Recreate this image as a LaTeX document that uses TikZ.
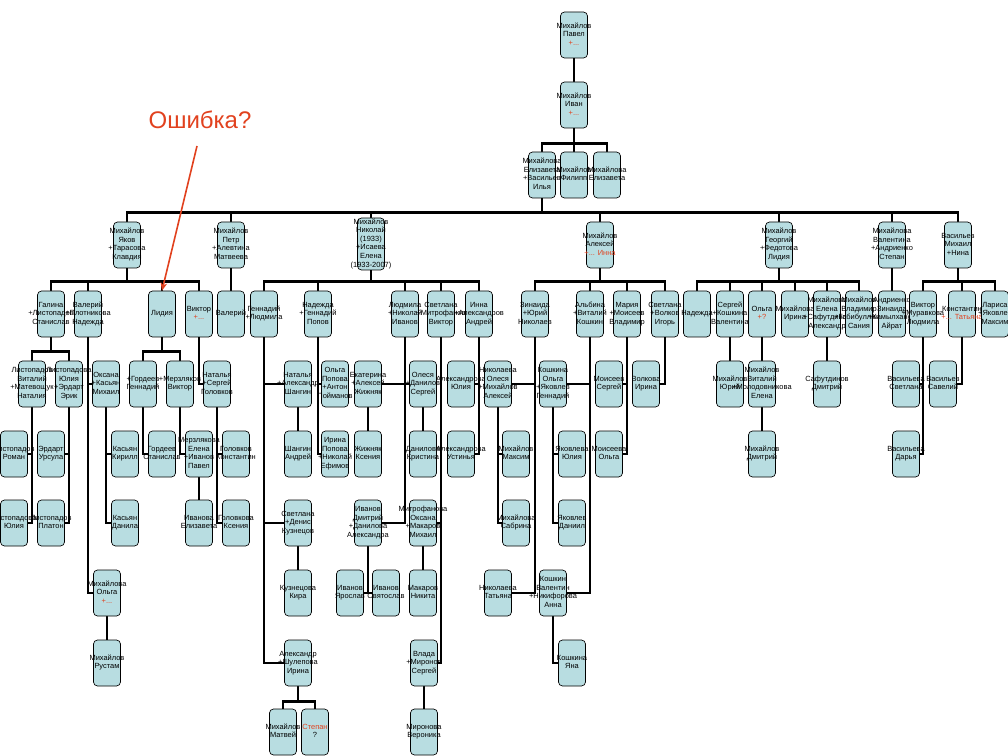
\documentclass[tikz,border=0pt]{standalone}
\usepackage{fontspec}
\setmainfont{Liberation Sans}
\usetikzlibrary{backgrounds,arrows.meta}
\definecolor{boxfill}{RGB}{184,221,225}
\definecolor{errred}{RGB}{225,65,30}
\newcommand{\nt}[1]{\makebox[0pt]{\begin{tabular}{@{}c@{}}#1\end{tabular}}}
\tikzset{
 pbox/.style={draw=black, line width=0.5pt, fill=boxfill, rounded corners=3pt, minimum width=20.25pt, minimum height=34.5pt, inner sep=0pt, font=\fontsize{5.6}{6.4}\selectfont, text=black},
 tallbox/.style={pbox, minimum height=39pt},
 link/.style={line width=2pt, draw=black},
 errarrow/.style={draw=errred, line width=1.2pt, -{Stealth[length=6pt,width=5pt]}},
 errlabel/.style={text=errred, font=\fontsize{18}{20}\selectfont, inner sep=0pt},
}
\newcommand{\rd}[1]{\textcolor{errred}{#1}}
\begin{document}
\begin{tikzpicture}[x=0.75pt,y=-0.75pt]
\useasboundingbox (0,0) rectangle (1008,756);
% level 0-2
\node[pbox] (pavel) at (574,35) {\nt{Михайлов\\Павел\\\rd{+...}}};
\node[pbox] (ivan) at (574,105) {\nt{Михайлов\\Иван\\\rd{+...}}};
\node[pbox] (eliz1) at (542,175) {\nt{Михайлова\\Елизавета\\+Васильев\\Илья}};
\node[pbox] (filipp) at (574,175) {\nt{Михайлов\\Филипп}};
\node[pbox] (eliz2) at (607,175) {\nt{Михайлова\\Елизавета}};
% level 3
\node[pbox] (yakov) at (127,245) {\nt{Михайлов\\Яков\\+Тарасова\\Клавдия}};
\node[pbox] (petr) at (231,245) {\nt{Михайлов\\Петр\\+Алевтина\\Матвеева}};
\node[tallbox] (nikolai) at (371,244) {\nt{Михайлов\\Николай\\(1933)\\+Исаева\\Елена\\(1933-2007)}};
\node[pbox] (alexei) at (600,245) {\nt{Михайлов\\Алексей\\\rd{+... Инна}}};
\node[pbox] (georgii) at (779,245) {\nt{Михайлов\\Георгий\\+Федотова\\Лидия}};
\node[pbox] (valentina) at (892,245) {\nt{Михайлова\\Валентина\\+Андриенко\\Степан}};
\node[pbox] (vasiliev) at (958,245) {\nt{Васильев\\Михаил\\+Нина}};
% level 4
\node[pbox] (galina) at (51,314) {\nt{Галина\\+Листопадов\\Станислав}};
\node[pbox] (valerii1) at (88,314) {\nt{Валерий\\+Плотникова\\Надежда}};
\node[pbox] (lidia) at (162,314) {\nt{Лидия}};
\node[pbox] (viktor1) at (199,314) {\nt{Виктор\\\rd{+...}}};
\node[pbox] (valerii2) at (231,314) {\nt{Валерий}};
\node[pbox] (gennadii) at (264,314) {\nt{Геннадий\\+Людмила}};
\node[pbox] (nadezhda1) at (318,314) {\nt{Надежда\\+Геннадий\\Попов}};
\node[pbox] (ludmila) at (405,314) {\nt{Людмила\\+Николай\\Иванов}};
\node[pbox] (svetlana1) at (441,314) {\nt{Светлана\\+Митрофанов\\Виктор}};
\node[pbox] (inna) at (479,314) {\nt{Инна\\+Александров\\Андрей}};
\node[pbox] (zinaida) at (535,314) {\nt{Зинаида\\+Юрий\\Николаев}};
\node[pbox] (albina) at (590,314) {\nt{Альбина\\+Виталий\\Кошкин}};
\node[pbox] (maria) at (627,314) {\nt{Мария\\+Моисеев\\Владимир}};
\node[pbox] (svetlana2) at (665,314) {\nt{Светлана\\+Волков\\Игорь}};
\node[pbox] (nadezhda2) at (697,314) {\nt{Надежда}};
\node[pbox] (sergei) at (730,314) {\nt{Сергей\\+Кошкина\\Валентина}};
\node[pbox] (olga1) at (762,314) {\nt{Ольга\\\rd{+?}}};
\node[pbox] (irina1) at (795,314) {\nt{Михайлова\\Ирина}};
\node[pbox] (elena1) at (827,314) {\nt{Михайлова\\Елена\\+Сафутдинов\\Александр}};
\node[pbox] (vladimir) at (859,314) {\nt{Михайлов\\Владимир\\+Габибуллина\\Сания}};
\node[pbox] (zinaida2) at (892,314) {\nt{Андриенко\\Зинаида\\+Камылханов\\Айрат}};
\node[pbox] (viktor2) at (923,314) {\nt{Виктор\\+Муравкова\\Людмила}};
\node[pbox] (konstantin) at (962,314) {\nt{Константин\\\rd{+... Татьяна}}};
\node[pbox] (larisa) at (995,314) {\nt{Лариса\\+Яковлев\\Максим}};
% level 5
\node[pbox] (vitalii) at (32,384) {\nt{Листопадов\\Виталий\\+Матевощук\\Наталия}};
\node[pbox] (yulia1) at (69,384) {\nt{Листопадова\\Юлия\\+Эрдарт\\Эрик}};
\node[pbox] (oksana) at (106,384) {\nt{Оксана\\+Касьян\\Михаил}};
\node[pbox] (gordeev) at (143,384) {\nt{+Гордеев\\Геннадий}};
\node[pbox] (merzlyakov) at (180,384) {\nt{+Мерзляков\\Виктор}};
\node[pbox] (natalia1) at (217,384) {\nt{Наталья\\+Сергей\\Головков}};
\node[pbox] (natalia2) at (298,384) {\nt{Наталья\\+Александр\\Шангин}};
\node[pbox] (olga2) at (335,384) {\nt{Ольга\\Попова\\+Антон\\Пойманов}};
\node[pbox] (ekaterina) at (368,384) {\nt{Екатерина\\+Алексей\\Жижняк}};
\node[pbox] (olesya1) at (423,384) {\nt{Олеся\\+Данилов\\Сергей}};
\node[pbox] (yulia2) at (461,384) {\nt{Александрова\\Юлия}};
\node[pbox] (olesya2) at (498,384) {\nt{Николаева\\Олеся\\+Михайлов\\Алексей}};
\node[pbox] (koshkina) at (553,384) {\nt{Кошкина\\Ольга\\+Яковлев\\Геннадий}};
\node[pbox] (moiseev) at (609,384) {\nt{Моисеев\\Сергей}};
\node[pbox] (volkova) at (646,384) {\nt{Волкова\\Ирина}};
\node[pbox] (yurii) at (730,384) {\nt{Михайлов\\Юрий}};
\node[pbox] (vitalii2) at (762,384) {\nt{Михайлов\\Виталий\\+Молодовникова\\Елена}};
\node[pbox] (safutdinov) at (827,384) {\nt{Сафутдинов\\Дмитрий}};
\node[pbox] (svetlana3) at (906,384) {\nt{Васильева\\Светлана}};
\node[pbox] (savelii) at (943,384) {\nt{Васильев\\Савелий}};
% level 6
\node[pbox] (roman) at (14,454) {\nt{Листопадов\\Роман}};
\node[pbox] (ursula) at (51,454) {\nt{Эрдарт\\Урсула}};
\node[pbox] (kirill) at (125,454) {\nt{Касьян\\Кирилл}};
\node[pbox] (stanislav) at (162,454) {\nt{Гордеев\\Станислав}};
\node[pbox] (elena2) at (199,454) {\nt{Мерзлякова\\Елена\\+Иванов\\Павел}};
\node[pbox] (konstantin2) at (236,454) {\nt{Головков\\Константин}};
\node[pbox] (andrei) at (298,454) {\nt{Шангин\\Андрей}};
\node[pbox] (irina2) at (335,454) {\nt{Ирина\\Попова\\+Николай\\Ефимов}};
\node[pbox] (ksenia1) at (368,454) {\nt{Жижняк\\Ксения}};
\node[pbox] (kristina) at (423,454) {\nt{Данилова\\Кристина}};
\node[pbox] (ustinya) at (461,454) {\nt{Александрова\\Устинья}};
\node[pbox] (maksim) at (516,454) {\nt{Михайлов\\Максим}};
\node[pbox] (yulia3) at (572,454) {\nt{Яковлева\\Юлия}};
\node[pbox] (olga3) at (609,454) {\nt{Моисеева\\Ольга}};
\node[pbox] (dmitrii1) at (762,454) {\nt{Михайлов\\Дмитрий}};
\node[pbox] (darya) at (906,454) {\nt{Васильева\\Дарья}};
% level 7
\node[pbox] (yulia4) at (14,523) {\nt{Листопадова\\Юлия}};
\node[pbox] (platon) at (51,523) {\nt{Листопадов\\Платон}};
\node[pbox] (danila) at (125,523) {\nt{Касьян\\Данила}};
\node[pbox] (elizaveta3) at (199,523) {\nt{Иванова\\Елизавета}};
\node[pbox] (ksenia2) at (236,523) {\nt{Головкова\\Ксения}};
\node[pbox] (svetlana4) at (298,523) {\nt{Светлана\\+Денис\\Кузнецов}};
\node[pbox] (dmitrii2) at (368,523) {\nt{Иванов\\Дмитрий\\+Данилова\\Александра}};
\node[pbox] (oksana2) at (423,523) {\nt{Митрофанова\\Оксана\\+Макаров\\Михаил}};
\node[pbox] (sabrina) at (516,523) {\nt{Михайлова\\Сабрина}};
\node[pbox] (daniil) at (572,523) {\nt{Яковлев\\Даниил}};
% level 8
\node[pbox] (olga4) at (107,593) {\nt{Михайлова\\Ольга\\\rd{+...}}};
\node[pbox] (kira) at (298,593) {\nt{Кузнецова\\Кира}};
\node[pbox] (yaroslav) at (350,593) {\nt{Иванов\\Ярослав}};
\node[pbox] (svyatoslav) at (386,593) {\nt{Иванов\\Святослав}};
\node[pbox] (nikita) at (423,593) {\nt{Макаров\\Никита}};
\node[pbox] (tatiana) at (498,593) {\nt{Николаева\\Татьяна}};
\node[pbox] (valentin) at (553,593) {\nt{Кошкин\\Валентин\\+Никифорова\\Анна}};
% level 9
\node[pbox] (rustam) at (107,663) {\nt{Михайлов\\Рустам}};
\node[pbox] (aleksandr) at (298,663) {\nt{Александр\\+Шулепова\\Ирина}};
\node[pbox] (vlada) at (424,663) {\nt{Влада\\+Миронов\\Сергей}};
\node[pbox] (yana) at (572,663) {\nt{Кошкина\\Яна}};
% level 10
\node[pbox] (matvei) at (283,732) {\nt{Михайлов\\Матвей}};
\node[pbox] (stepan) at (315,732) {\nt{\rd{Степан}\\?}};
\node[pbox] (veronika) at (424,732) {\nt{Миронова\\Вероника}};
% label
\node[errlabel] (oshibka) at (200,120) {Ошибка?};
\coordinate (errstart) at (197,146);

\begin{scope}[on background layer]
\draw[link] (pavel) -- (ivan);
\foreach \c in {eliz1,filipp,eliz2} \draw[link] (ivan.south) -- ++(0,15) -| (\c.north);
\foreach \c in {yakov,petr,nikolai,alexei,georgii,valentina,vasiliev} \draw[link] (eliz1.south) -- ++(0,14) -| (\c.north);
\foreach \c in {galina,valerii1,lidia,viktor1} \draw[link] (yakov.south) -- ++(0,13) -| (\c.north);
\draw[link] (petr) -- (valerii2);
\foreach \c in {gennadii,nadezhda1,ludmila,svetlana1,inna} \draw[link] (nikolai.south) -- ++(0,11) -| (\c.north);
\foreach \c in {zinaida,albina,maria,svetlana2} \draw[link] (alexei.south) -- ++(0,13) -| (\c.north);
\foreach \c in {nadezhda2,sergei,olga1,irina1,elena1,vladimir} \draw[link] (georgii.south) -- ++(0,13) -| (\c.north);
\draw[link] (valentina) -- (zinaida2);
\foreach \c in {viktor2,konstantin,larisa} \draw[link] (vasiliev.south) -- ++(0,13) -| (\c.north);
% Yakov's branch
\foreach \c in {vitalii,yulia1} \draw[link] (galina.south) -- ++(0,14) -| (\c.north);
\foreach \c in {oksana,olga4} \draw[link] (valerii1.south) |- (\c.west);
\foreach \c in {gordeev,merzlyakov} \draw[link] (lidia.south) -- ++(0,14) -| (\c.north);
\draw[link] (viktor1.south) |- (natalia1.west);
\foreach \c in {roman,yulia4} \draw[link] (vitalii.south) |- (\c.east);
\foreach \c in {ursula,platon} \draw[link] (yulia1.south) |- (\c.east);
\foreach \c in {kirill,danila} \draw[link] (oksana.south) |- (\c.west);
\draw[link] (gordeev.south) |- (stanislav.west);
\draw[link] (merzlyakov.south) |- (elena2.west);
\draw[link] (elena2) -- (elizaveta3);
\foreach \c in {konstantin2,ksenia2} \draw[link] (natalia1.south) |- (\c.west);
\draw[link] (olga4) -- (rustam);
% Nikolai's branch
\foreach \c in {natalia2,svetlana4,aleksandr} \draw[link] (gennadii.south) |- (\c.west);
\draw[link] (natalia2) -- (andrei);
\draw[link] (svetlana4) -- (kira);
\foreach \c in {matvei,stepan} \draw[link] (aleksandr.south) -- ++(0,15) -| (\c.north);
\foreach \c in {olga2,irina2} \draw[link] (nadezhda1.south) |- (\c.west);
\foreach \c in {ekaterina,dmitrii2} \draw[link] (ludmila.south) |- (\c.east);
\draw[link] (ludmila.south) |- (olesya1.west);
\draw[link] (ekaterina) -- (ksenia1);
\draw[link] (olesya1) -- (kristina);
\draw[link] (dmitrii2.south) |- (yaroslav.east);
\draw[link] (dmitrii2.south) |- (svyatoslav.west);
\foreach \c in {oksana2,vlada} \draw[link] (svetlana1.south) |- (\c.east);
\draw[link] (oksana2) -- (nikita);
\draw[link] (vlada) -- (veronika);
\foreach \c in {yulia2,ustinya} \draw[link] (inna.south) |- (\c.east);
% Alexei's branch
\foreach \c in {olesya2,tatiana} \draw[link] (zinaida.south) |- (\c.east);
\foreach \c in {maksim,sabrina} \draw[link] (olesya2.south) |- (\c.west);
\foreach \c in {koshkina,valentin} \draw[link] (albina.south) |- (\c.east);
\foreach \c in {yulia3,daniil} \draw[link] (koshkina.south) |- (\c.west);
\draw[link] (valentin.south) |- (yana.west);
\foreach \c in {moiseev,olga3} \draw[link] (maria.south) |- (\c.east);
\draw[link] (svetlana2.south) |- (volkova.east);
% Georgii's branch
\draw[link] (sergei) -- (yurii);
\draw[link] (olga1) -- (vitalii2);
\draw[link] (vitalii2) -- (dmitrii1);
\draw[link] (elena1) -- (safutdinov);
% Vasiliev's branch
\foreach \c in {svetlana3,darya} \draw[link] (viktor2.south) |- (\c.east);
\draw[link] (konstantin.south) |- (savelii.east);
\end{scope}
\draw[errarrow] (errstart) -- (lidia.north);
\end{tikzpicture}
\end{document}
